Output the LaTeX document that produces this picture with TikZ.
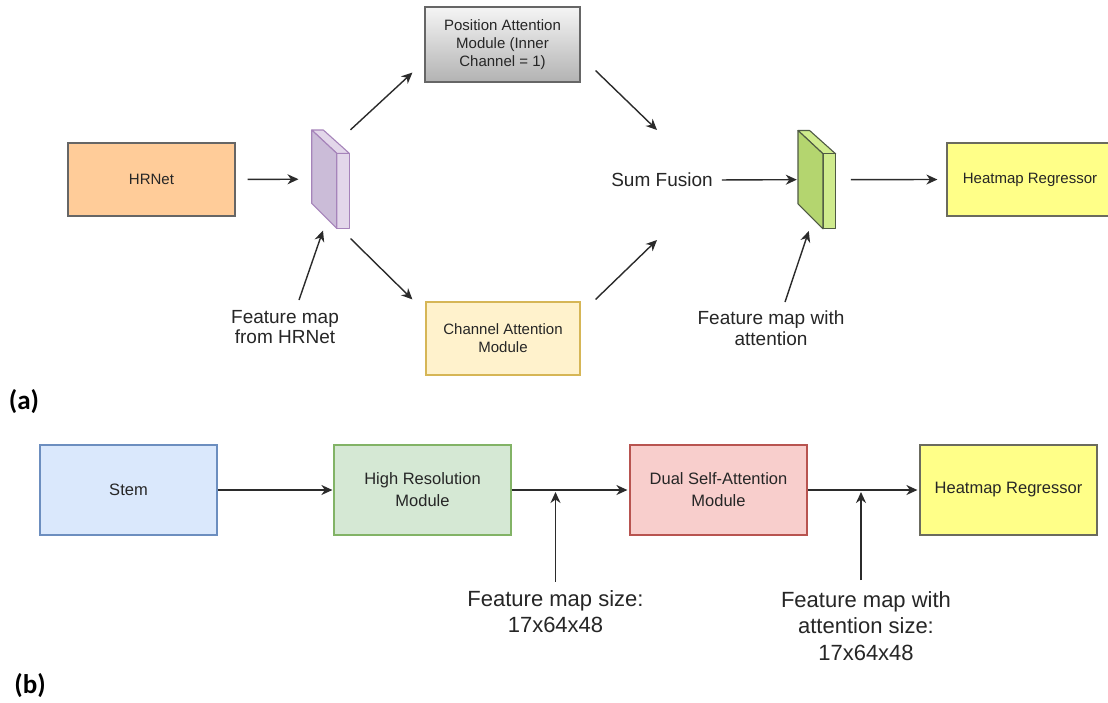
\documentclass[tikz,border=0pt]{standalone}
\usepackage{fontspec}
\setmainfont{Liberation Sans}
\newfontfamily\lblfont{Carlito}
\usetikzlibrary{arrows.meta,calc}
\definecolor{txt}{HTML}{262626}
\definecolor{linec}{HTML}{2B2B2B}
\definecolor{hrnetf}{HTML}{FFCC99}
\definecolor{greyd}{HTML}{666666}
\definecolor{camf}{HTML}{FFF2CC}
\definecolor{camd}{HTML}{D6B656}
\definecolor{yelf}{HTML}{FFFF88}
\definecolor{yeld}{HTML}{6B6B5E}
\definecolor{pfront}{HTML}{CBBCD8}
\definecolor{pside}{HTML}{E3D7EA}
\definecolor{pdraw}{HTML}{A684BA}
\definecolor{gfront}{HTML}{B4D56F}
\definecolor{gside}{HTML}{CFEB8D}
\definecolor{gdraw}{HTML}{4F5A44}
\definecolor{stemf}{HTML}{DAE8FC}
\definecolor{stemd}{HTML}{6C8EBF}
\definecolor{hrmf}{HTML}{D5E8D4}
\definecolor{hrmd}{HTML}{82B366}
\definecolor{dsaf}{HTML}{F8CECC}
\definecolor{dsad}{HTML}{B85450}
\newcommand{\drawcuboid}[5]{%
  \filldraw[fill=#4,draw=#5,line width=1.1pt,line join=round]
    (#1,#2) -- ({#1+11.6},#2) -- ({#1+37.6},{#2+23.3}) -- ({#1+25},{#2+23.3}) -- cycle;
  \filldraw[fill=#4,draw=#5,line width=1.1pt,line join=round]
    ({#1+25},{#2+23.3}) -- ({#1+37.6},{#2+23.3}) -- ({#1+37.6},{#2+98.3}) -- ({#1+25},{#2+98.3}) -- cycle;
  \filldraw[fill=#3,draw=#5,line width=1.1pt,line join=round]
    (#1,#2) -- ({#1+25},{#2+23.3}) -- ({#1+25},{#2+98.3}) -- (#1,{#2+73.3}) -- cycle;
}
\tikzset{
  box/.style={draw, line width=1.2pt, inner sep=0pt, align=center, text=txt},
  ta/.style={font=\fontsize{15}{18}\selectfont},
  tb/.style={font=\fontsize{16.5}{22}\selectfont},
  la/.style={font=\fontsize{19}{20.5}\selectfont, text=txt, align=center, inner sep=0pt},
  lb/.style={font=\fontsize{22}{26.5}\selectfont, text=txt, align=center, inner sep=0pt},
  arr/.style={draw=linec, line width=1.4pt, -{Stealth[length=11pt,width=10pt,inset=3.5pt]}},
  cubebox/.style={inner sep=0pt, minimum width=37.6pt, minimum height=98.3pt},
  partlbl/.style={font=\lblfont\bfseries\fontsize{27}{30}\selectfont, text=black, inner sep=0pt}
}
\begin{document}
\begin{tikzpicture}[x=1pt,y=-1pt]
\useasboundingbox[fill=white] (0,0) rectangle (1108,702);

% ---------- (a) ----------
\node[box, ta, fill=hrnetf, draw=greyd, minimum width=167pt, minimum height=73pt] (hrnet) at (151.5,179.5) {HRNet};
\node[box, ta, top color=white!96!black, bottom color=black!30, draw=greyd, minimum width=155pt, minimum height=75pt] (pam) at (502.5,44.5) {Position Attention\\Module (Inner\\Channel = 1)};
\node[box, ta, fill=camf, draw=camd, minimum width=154pt, minimum height=73pt] (cam) at (503,338.5) {Channel Attention\\Module};
\node[box, ta, fill=yelf, draw=yeld, minimum width=166pt, minimum height=73pt] (hra) at (1030,179.5) {Heatmap Regressor};
\node[la, font=\fontsize{19}{22}\selectfont] (sum) at (662,180) {Sum Fusion};

\drawcuboid{311.7}{130}{pfront}{pside}{pdraw}
\node[cubebox] (pcube) at (330.5,179.15) {};
\drawcuboid{798}{130.5}{gfront}{gside}{gdraw}
\node[cubebox] (gcube) at (816.8,179.65) {};

\node[la] (fl) at (285,327) {Feature map\\from HRNet};
\node[la] (fa) at (771,328) {Feature map with\\attention};

\draw[arr, shorten <=12pt, shorten >=13pt] (hrnet.east) -- (pcube.west);
\draw[arr] ($(pcube.north east)+(1,0)$) -- ($(pam.south west)+(-12,-10)$);
\draw[arr] ($(pcube.south east)+(1,10)$) -- ($(cam.north west)+(-13,-2)$);
\draw[arr] ($(pam.south east)+(15,-12)$) -- ($(sum.center)+(-5,-50)$);
\draw[arr] ($(cam.north east)+(15,-2)$) -- ($(sum.center)+(-5,60)$);
\draw[arr, shorten <=9pt, shorten >=1pt] (sum.east) -- (gcube.west);
\draw[arr, shorten <=15pt, shorten >=9pt] (gcube.east) -- (hra.west);
\draw[arr] ($(fl.center)+(14,-27)$) -- ($(pcube.south)+(-7.5,2)$);
\draw[arr] ($(fa.center)+(14,-26)$) -- ($(gcube.south)+(-8,2)$);

\node[partlbl] (la) at (24,402) {(a)};

% ---------- (b) ----------
\node[box, tb, fill=stemf, draw=stemd, minimum width=177pt, minimum height=90pt] (stem) at (128.5,490) {Stem};
\node[box, tb, fill=hrmf, draw=hrmd, minimum width=177pt, minimum height=90pt] (hrm) at (422.5,490) {High Resolution\\Module};
\node[box, tb, fill=dsaf, draw=dsad, minimum width=177pt, minimum height=90pt] (dsa) at (718.5,490) {Dual Self-Attention\\Module};
\node[box, tb, fill=yelf, draw=yeld, minimum width=177pt, minimum height=90pt] (hrb) at (1008.5,490) {Heatmap Regressor};

\draw[arr, shorten >=1pt] (stem.east) -- (hrm.west);
\draw[arr, shorten >=2pt] (hrm.east) -- (dsa.west);
\draw[arr, shorten >=2pt] (dsa.east) -- (hrb.west);

\node[lb] (lb1) at (555.5,611.5) {Feature map size:\\17x64x48};
\node[lb] (lb2) at (866,626) {Feature map with\\attention size:\\17x64x48};

\coordinate (u1) at ($(lb1.center)+(0,-30)$);
\coordinate (u2) at ($(lb2.center)+(-5,-46)$);
\draw[arr, shorten >=2pt] (u1) -- (u1 |- hrm.east);
\draw[arr, shorten >=2pt] (u2) -- (u2 |- dsa.east);

\node[partlbl] (lbb) at (30,686) {(b)};
\end{tikzpicture}
\end{document}
